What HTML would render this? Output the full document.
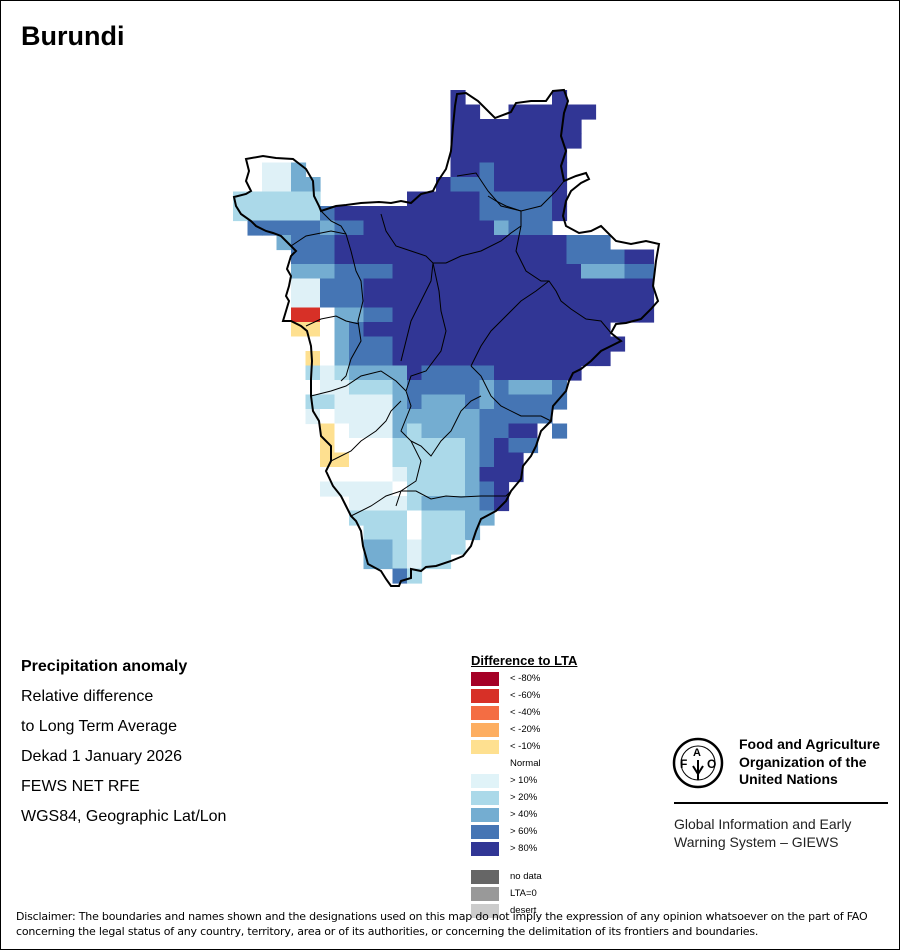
<!DOCTYPE html>
<html><head><meta charset="utf-8"><style>
html,body{margin:0;padding:0;background:#fff}
#page{position:relative;width:898px;height:948px;border:1px solid #000;overflow:hidden;font-family:"Liberation Sans",sans-serif;color:#000}
.t{position:absolute;white-space:nowrap}
</style></head><body>
<div id="page">
<div class="t" style="left:20px;top:20px;font-size:27px;font-weight:bold">Burundi</div>
<svg id="map" width="898" height="948" style="position:absolute;left:0;top:0">
<g id="cells"></g>
<polygon fill="none" stroke="#000" stroke-width="2" points="245,158 262,155 275,157 292,158 305,168 312,180 313,195 318,205 320,210 335,205 345,204 360,202 378,201 390,202 400,200 410,202 420,193 432,190 437,180 445,168 450,150 452,125 454,105 456,93 465,92 477,100 494,117 510,111 515,102 530,100 545,100 552,90 563,89 567,100 563,112 560,135 565,150 560,165 563,180 575,175 585,172 588,178 580,182 570,190 565,200 562,215 565,225 578,232 590,230 600,225 615,240 630,243 645,240 658,243 655,260 652,285 657,300 650,308 640,318 625,322 615,323 610,332 620,340 610,345 600,350 590,360 580,368 572,372 568,380 565,390 552,405 550,420 545,425 540,430 535,445 530,455 522,465 520,478 510,490 505,500 495,510 480,518 475,530 470,545 462,555 450,560 435,565 425,566 420,570 410,568 410,577 400,580 398,585 390,585 385,578 380,570 367,563 362,545 360,530 355,520 350,515 345,505 340,495 332,485 325,470 330,460 330,445 320,435 318,420 312,410 310,395 310,378 311,360 310,345 306,330 300,325 290,320 282,320 285,310 288,300 285,295 288,285 290,275 286,268 290,255 295,250 290,245 285,240 280,235 272,232 265,230 255,225 250,220 240,213 235,205 233,196 245,193 250,190 245,180 248,170"/>
<g fill="none" stroke="#000" stroke-width="1">
<polyline points="290,245 305,235 320,232 330,230 345,233 350,250 355,270 360,280 362,300 357,320 360,340 350,358 345,375 340,380"/>
<polyline points="320,210 330,220 340,225 345,233"/>
<polyline points="305,325 320,318 335,315 345,320 358,323"/>
<polyline points="380,213 385,230 395,245 410,250 425,255 432,262 430,280 420,300 410,320 405,340 400,360"/>
<polyline points="432,262 445,262 460,255 480,250 500,240 510,232 520,225 520,210 505,205 495,200 487,195"/>
<polyline points="456,175 475,172 487,190 500,205 520,210 540,205 555,190 563,180"/>
<polyline points="520,225 515,250 525,270 540,280 548,280 555,290 560,300 570,308 585,318 600,320 610,332"/>
<polyline points="432,262 438,290 440,310 445,330 440,350 425,370 410,375 405,390 410,405 400,430 410,440 420,460 415,480 400,490 395,505"/>
<polyline points="548,280 535,290 520,300 510,310 500,320 490,330 480,345 470,365"/>
<polyline points="470,365 480,375 490,395 500,405 520,415 540,415 550,420"/>
<polyline points="310,395 330,390 345,385 360,375 380,370 395,380 405,390"/>
<polyline points="330,460 350,450 360,440 375,430 385,420 390,410 400,400"/>
<polyline points="350,515 370,505 385,495 400,490 415,490 430,498 445,495 460,496 480,495 505,495 510,490"/>
<polyline points="410,440 420,445 430,455 440,440 450,430 455,420 460,410 470,400 480,395"/>
</g>
</svg>

<div class="t" style="left:20px;top:657px;font-size:16px;font-weight:bold">Precipitation anomaly</div>
<div class="t" style="left:20px;top:687px;font-size:16px">Relative difference</div>
<div class="t" style="left:20px;top:717px;font-size:16px">to Long Term Average</div>
<div class="t" style="left:20px;top:747px;font-size:16px">Dekad 1 January 2026</div>
<div class="t" style="left:20px;top:777px;font-size:16px">FEWS NET RFE</div>
<div class="t" style="left:20px;top:807px;font-size:16px">WGS84, Geographic Lat/Lon</div>

<div class="t" style="left:470px;top:652px;font-size:13px;font-weight:bold;text-decoration:underline">Difference to LTA</div>
<div id="legend"></div>

<svg width="54" height="54" style="position:absolute;left:670px;top:735px">
<circle cx="27" cy="27" r="24" fill="none" stroke="#000" stroke-width="2.5"/>
<circle cx="27" cy="27" r="17" fill="none" stroke="#000" stroke-width="1"/>
<text x="9" y="32" font-size="12" font-weight="bold" font-family="Liberation Sans">F</text>
<text x="22" y="20" font-size="11" font-weight="bold" font-family="Liberation Sans">A</text>
<text x="36" y="32" font-size="12" font-weight="bold" font-family="Liberation Sans">O</text>
<path d="M27 24 L27 44 M22 30 L27 38 L32 30" stroke="#000" stroke-width="2" fill="none"/>
</svg>
<div class="t" style="left:738px;top:735px;font-size:14px;font-weight:bold;line-height:17.5px">Food and Agriculture<br>Organization of the<br>United Nations</div>
<div style="position:absolute;left:673px;top:801px;width:214px;height:2px;background:#000"></div>
<div class="t" style="left:673px;top:814px;font-size:14px;line-height:18px;color:#222">Global Information and Early<br>Warning System – GIEWS</div>

<div class="t" style="left:15px;top:908px;font-size:11px;line-height:15px;font-family:'DejaVu Sans','Liberation Sans',sans-serif;letter-spacing:-0.2px">Disclaimer: The boundaries and names shown and the designations used on this map do not imply the expression of any opinion whatsoever on the part of FAO<br>concerning the legal status of any country, territory, area or of its authorities, or concerning the delimitation of its frontiers and boundaries.</div>
</div>
<script>
const gridRows = [
"...............8......8......",
"...............88..888888....",
"...............888888888.....",
"...............888888888.....",
"...............88888888......",
"..114..........88688888......",
"..1144........866688888......",
"222222......88888666668......",
"22222268888888888666668......",
".666664668888888884666.......",
"...46668888888888888888666...",
"....6668888888888888888666688",
"....4446666888888888888844466",
"....1166688888888888888888888",
"....1166688888888888888888888",
"....rrw4466888888888888888888",
"....yyw4688888888888888888...",
"....www46668888888888888888..",
".....yw4666888888888888888...",
".....2124444866666888888.....",
".....w11222466666464446......",
".....221111464446466666......",
".....1w111144444466666.......",
"......yw1114244446688w6......",
"......ywwww2222246866........",
"......yywww222224688.........",
"......wwwww122224888.........",
"......11111w2222468..........",
"........11112444468..........",
"........2222w22244...........",
".........222w2224............",
".........4421222.............",
".........442122..............",
"...........62................"
];
const colorCodes = ['1','2','4','6','8','y','r','w'];
const colorValues = ['#dff1f7','#abd9e9','#74add1','#4575b4','#313695','#fee090','#d73027','#ffffff'];
const legendLabels = ['< -80%','< -60%','< -40%','< -20%','< -10%','Normal','> 10%','> 20%','> 40%','> 60%','> 80%','no data','LTA=0','desert'];
const legendColors = ['#a50026','#d73027','#f46d43','#fdae61','#fee090','none','#e0f3f8','#abd9e9','#74add1','#4575b4','#313695','#666666','#999999','#cccccc'];

const NS='http://www.w3.org/2000/svg';
const x0=232, y0=89, cw=14.5, ch=14.5;
const xs=c=>x0+c*cw, ys=r=>y0+r*ch;
const g=document.getElementById('cells');
gridRows.forEach((row,r)=>{
  for(let c=0;c<row.length&&c<29;c++){
    const k=colorCodes.indexOf(row[c]);
    if(k<0)continue;
    const rect=document.createElementNS(NS,'rect');
    rect.setAttribute('x',xs(c));rect.setAttribute('y',ys(r));
    rect.setAttribute('width',cw+0.6);rect.setAttribute('height',ch+0.6);
    rect.setAttribute('fill',colorValues[k]);
    
    
    g.appendChild(rect);
  }
});
const lg=document.getElementById('legend');
legendLabels.forEach((lab,i)=>{
  const y = i<11 ? 671+i*17 : 869+(i-11)*17;
  if(legendColors[i]!=='none'){
    const sw=document.createElement('div');
    sw.style.cssText=`position:absolute;left:470px;top:${y}px;width:28px;height:14px;background:${legendColors[i]}`;
    
    
    lg.appendChild(sw);
  }
  const t=document.createElement('div');
  t.className='t';
  t.style.cssText=`left:509px;top:${y+1}px;font-size:9.5px`;
  t.textContent=lab;
  
  
  lg.appendChild(t);
});
</script>
</body></html>
